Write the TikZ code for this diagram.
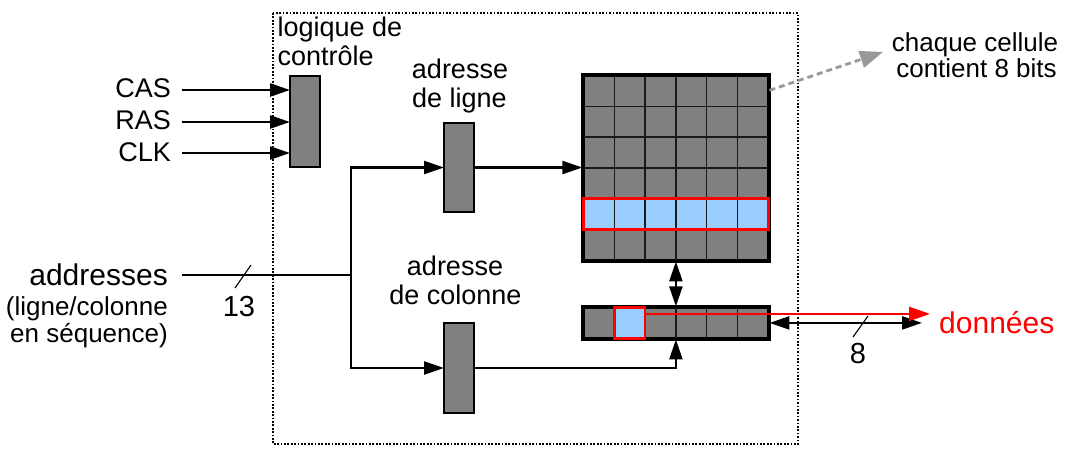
\documentclass[tikz,border=0pt]{standalone}
\usepackage{fontspec}
\setmainfont{Liberation Sans}
\usetikzlibrary{arrows.meta}
\definecolor{cellgray}{HTML}{808080}
\definecolor{cellblue}{HTML}{99CCFF}
\definecolor{notegray}{HTML}{999999}
\definecolor{hired}{HTML}{FF0000}
\begin{document}
\begin{tikzpicture}[x=1pt,y=-1pt,
  gbox/.style={draw=black, line width=2.6pt, fill=cellgray, minimum width=30pt, inner sep=0pt, outer sep=0pt},
  wire/.style={line width=2.3pt, line join=miter},
  arr/.style={wire, -{Triangle[length=20pt,width=13pt]}},
  darr/.style={wire, {Triangle[length=20pt,width=13pt]}-{Triangle[length=20pt,width=13pt]}},
  redarr/.style={line width=2.3pt, draw=hired, -{Triangle[length=21pt,width=14pt]}},
  notearr/.style={line width=2.8pt, draw=notegray, dash pattern=on 6pt off 4pt, -{Triangle[length=23pt,width=17pt]}},
  frame/.style={line width=2.4pt, dash pattern=on 1.7pt off 1.7pt},
  gridline/.style={line width=1.5pt, draw=black!90},
  lbl/.style={inner sep=0pt, font=\fontsize{27}{29}\selectfont},
  smalllbl/.style={inner sep=0pt, font=\fontsize{26}{28}\selectfont},
  biglbl/.style={inner sep=0pt, font=\fontsize{30}{32}\selectfont},
  numlbl/.style={inner sep=0pt, font=\fontsize{29}{31}\selectfont},
  sig/.style={lbl, inner xsep=11pt, inner ysep=0pt, anchor=base east},
  slash/.style={line width=1.1pt}
]
\useasboundingbox (0,0) rectangle (1089,461);

% dotted frame
\draw[frame] (273,13) rectangle (798,444);

% control logic
\node[gbox, minimum height=91pt] (ctl) at (305,121.5) {};
\node[lbl, anchor=base west] (ctltxt1) at (277.5,36) {logique de};
\node[lbl, anchor=base west] (ctltxt2) at (277.5,65) {contrôle};

\node[sig] (cas) at (182,97) {CAS};
\node[sig] (ras) at (182,129) {RAS};
\node[sig] (clk) at (182,161) {CLK};
\draw[arr] (182,90) coordinate (casS) -- (casS -| ctl.west);
\draw[arr] (182,122) coordinate (rasS) -- (rasS -| ctl.west);
\draw[arr] (182,153) coordinate (clkS) -- (clkS -| ctl.west);

% row / column address registers
\node[gbox, minimum height=89pt] (row) at (459,167.5) {};
\node[gbox, minimum height=90pt] (col) at (459,368) {};
\node[lbl, anchor=base] (rowtxt1) at (460,78) {adresse};
\node[lbl, anchor=base] (rowtxt2) at (459.5,107.5) {de ligne};
\node[lbl, anchor=base] (coltxt1) at (455,275) {adresse};
\node[lbl, anchor=base] (coltxt2) at (455.5,304) {de colonne};

% address input
\node[biglbl, inner xsep=14pt, anchor=base east] (addr) at (182,285) {addresses};
\node[smalllbl, anchor=base east] (addr2) at (168,315) {(ligne/colonne};
\node[smalllbl, anchor=base east] (addr3) at (168,342) {en séquence)};
\coordinate (j) at (351,275);
\draw[wire] (j -| addr.east) -- (j);
\draw[arr] (j) |- (row.west);
\draw[arr] (j) |- (col.west);
\draw[slash] (235,288) -- (251,265);
\node[numlbl, anchor=base] (n13) at (239,316) {13};

% memory matrix
\def\cs{30.8}
\node[draw=black, line width=2.3pt, fill=cellgray, minimum width=184.8pt, minimum height=184.8pt, inner sep=0pt] (mat) at (675.9,167.9) {};
\fill[cellblue] (583.5,198.7) rectangle (768.3,229.5);
\foreach \i in {1,...,5} {
  \draw[gridline] (583.5+\i*\cs,75.5) -- (583.5+\i*\cs,260.3);
  \draw[gridline] (583.5,75.5+\i*\cs) -- (768.3,75.5+\i*\cs);
}
\draw[draw=black, line width=2.3pt] (mat.north west) rectangle (mat.south east);
\node[draw=hired, line width=3pt, minimum width=184.8pt, minimum height=30.8pt, inner sep=0pt] (hrow) at (675.9,214.1) {};

% column register
\node[draw=black, line width=2.3pt, fill=cellgray, minimum width=184.8pt, minimum height=30.8pt, inner sep=0pt] (reg) at (675.9,322.9) {};
\foreach \i in {1,...,5} {
  \draw[gridline] (583.5+\i*\cs,307.5) -- (583.5+\i*\cs,338.3);
}
\draw[draw=black, line width=2.3pt] (reg.north west) rectangle (reg.south east);
\node[draw=hired, fill=cellblue, line width=2.6pt, minimum width=30.8pt, minimum height=30.8pt, inner sep=0pt] (hc) at (629.7,322.9) {};

% connections to matrix
\draw[arr] (row.east) -- (row.east -| mat.west);
\draw[darr] (mat.south) -- (reg.north);
\draw[arr] (col.east) -| (reg.south);

% data output
\coordinate (dend) at (922,322.9);
\coordinate (dout) at (930,313.9);
\draw[darr] (reg.east) -- (dend);
\draw[redarr] ([yshift=9pt]hc.east) -- (dout);
\draw[slash] (853,337) -- (868,316);
\node[numlbl, anchor=base] (n8) at (858,363) {8};
\node[biglbl, anchor=base west, text=hired] (data) at (939,333) {données};

% note
\coordinate (ntip) at (883,52);
\draw[notearr] ([yshift=-16pt]mat.north east) -- (ntip);
\node[smalllbl, anchor=base] (note1) at (975,51) {chaque cellule};
\node[smalllbl, anchor=base] (note2) at (976.5,77) {contient 8 bits};
\end{tikzpicture}
\end{document}
